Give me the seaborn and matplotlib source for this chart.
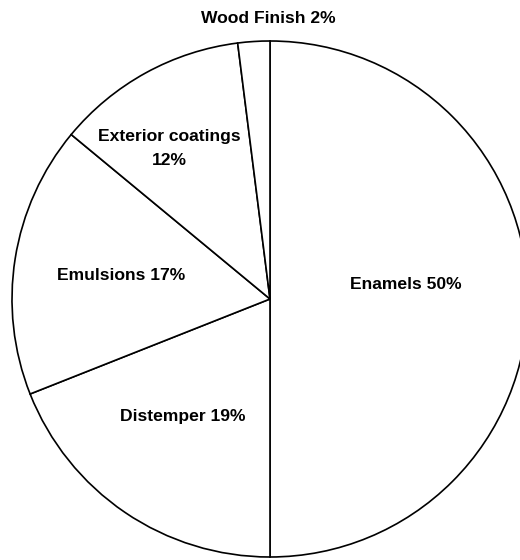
import matplotlib
matplotlib.use("Agg")
import matplotlib.pyplot as plt
import numpy as np
import seaborn as sns

categories = ["Enamels", "Distemper", "Emulsions", "Exterior coatings", "Wood Finish"]
shares = [50, 19, 17, 12, 2]
label_texts = ["Enamels 50%", "Distemper 19%", "Emulsions 17%", "Exterior coatings\n12%", "Wood Finish 2%"]

sns.set_theme(style="white")
plt.rcParams["font.family"] = ["Liberation Sans", "DejaVu Sans"]

fig = plt.figure(figsize=(5.2, 5.6), dpi=100)
fig.patch.set_facecolor("white")
ax = fig.add_axes([12 / 520, 3 / 560, 516 / 520, 516 / 560])

colors = ["white"] * len(shares)
wedges, _ = ax.pie(shares, colors=colors, startangle=90, counterclock=False,
                   wedgeprops=dict(edgecolor="black", linewidth=1.2),
                   radius=1.0)
ax.set_xlim(-1, 1)
ax.set_ylim(-1, 1)
ax.set_aspect("auto")
ax.set_axis_off()
for w in wedges:
    w.set_clip_on(False)

label_radius = [0.53, 0.565, 0.585, 0.70, 1.089]
angle_nudge = [6, -2.4, 0, 4.9, -3.2]
for w, txt, r, dn in zip(wedges, label_texts, label_radius, angle_nudge):
    mid = np.deg2rad((w.theta1 + w.theta2) / 2 + dn)
    ax.text(r * np.cos(mid), r * np.sin(mid), txt, ha="center", va="center",
            fontsize=12.6, fontweight="bold", color="black",
            linespacing=1.75, clip_on=False)

fig.savefig("out.png", dpi=100, facecolor="white")
